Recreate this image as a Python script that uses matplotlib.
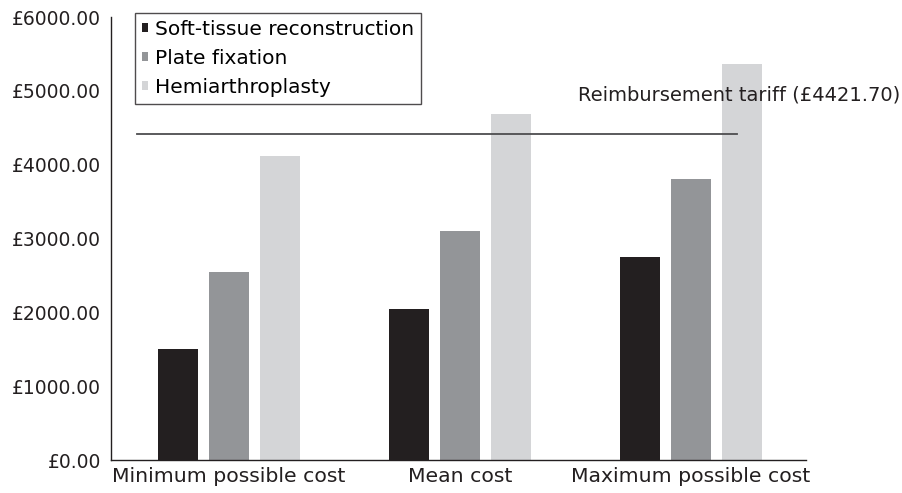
import matplotlib
matplotlib.use("Agg")
import matplotlib.pyplot as plt
import numpy as np

# values
categories = ["Minimum possible cost", "Mean cost", "Maximum possible cost"]
soft_tissue = [1500, 2050, 2750]
plate_fixation = [2550, 3100, 3810]
hemiarthroplasty = [4120, 4680, 5370]
tariff = 4421.70
yticks = [0, 1000, 2000, 3000, 4000, 5000, 6000]

series = [("Soft-tissue reconstruction", soft_tissue, "#231f20"),
          ("Plate fixation", plate_fixation, "#939598"),
          ("Hemiarthroplasty", hemiarthroplasty, "#d4d5d7")]

plt.rcParams['font.family'] = ['DejaVu Sans']

fig = plt.figure(figsize=(9.02, 4.93), dpi=100)
ax = fig.add_axes([111/902, 33/493, 695/902, 443/493])

x = np.arange(len(categories))
w = 0.173
off = 0.22
for i, (name, vals, col) in enumerate(series):
    ax.bar(x + (i - 1)*off, vals, width=w, color=col, label=name, zorder=2)

ax.plot([-0.398, 2.199], [tariff, tariff], color="#4d4d4f", lw=1.3, zorder=3)
ax.text(2.905, tariff + 520, "Reimbursement tariff (\u00a3%.2f)" % tariff,
        ha="right", va="center", fontsize=14, color="#231f20", clip_on=False, zorder=4)

ax.set_xlim(-0.511, 2.498)
ax.set_ylim(0, 6000)
ax.set_xticks(x)
ax.set_xticklabels(categories, fontsize=14.7, color="#231f20")
ax.set_yticks(yticks)
ax.set_yticklabels(["\u00a3%.2f" % v for v in yticks], fontsize=13.5, color="#231f20")
ax.tick_params(length=0)
ax.tick_params(axis="y", pad=7)
ax.tick_params(axis="x", pad=5)
for s in ["top", "right"]:
    ax.spines[s].set_visible(False)
for s in ["left", "bottom"]:
    ax.spines[s].set_color("#231f20")
    ax.spines[s].set_linewidth(1.0)

leg = ax.legend(loc="upper left", bbox_to_anchor=(24/695, 1.01), fontsize=14.5,
                frameon=True, fancybox=False, handlelength=0.32, handleheight=0.32,
                handletextpad=0.3, borderpad=0.35, labelspacing=0.5, borderaxespad=0)
leg.get_frame().set_edgecolor("#231f20")
leg.get_frame().set_linewidth(1.0)

fig.savefig("out.png", dpi=100)
